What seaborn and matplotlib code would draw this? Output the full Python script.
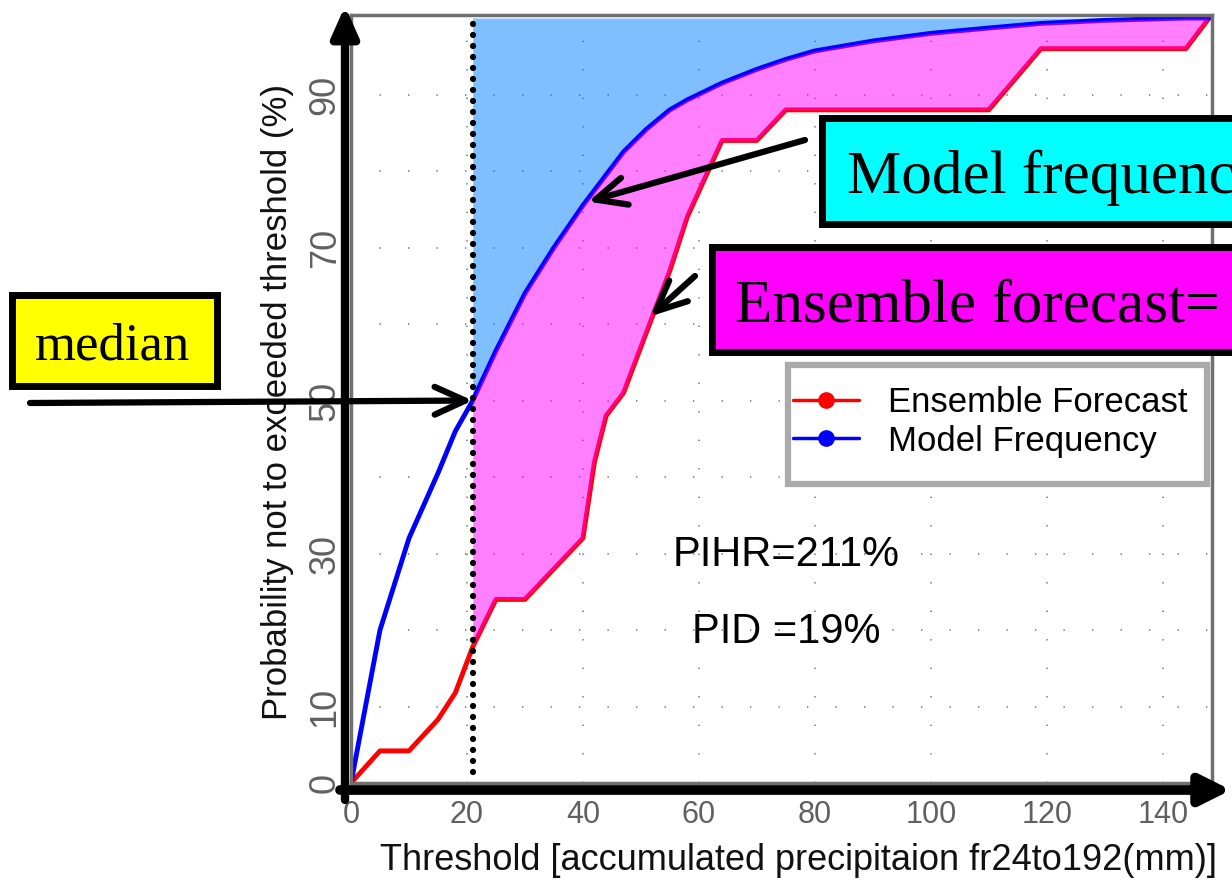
import numpy as np
import matplotlib
matplotlib.use("Agg")
import matplotlib.pyplot as plt
import seaborn as sns
from matplotlib.patches import Rectangle, FancyArrowPatch
from matplotlib.lines import Line2D

sns.set_style("white")
plt.rcParams['font.family'] = ['Liberation Sans', 'DejaVu Sans']
plt.rcParams['text.color'] = 'black'
plt.rcParams['axes.labelcolor'] = 'black'

# data
threshold = [0, 5, 10, 15, 18, 21, 25, 30, 35, 40, 42, 44, 47, 51, 55, 58, 64,
             70, 75, 80, 90, 100, 110, 119, 130, 144, 148]
model_freq = [0, 20, 32, 40.5, 46, 50, 56.5, 64, 70, 75.5, 77.5, 79.5, 82.5, 85.5,
              88, 89.3, 91.5, 93.3, 94.6, 95.7, 97, 98, 98.7, 99.3, 99.7, 100, 100]
ens_fcst = [0, 4.2, 4.2, 8.3, 11.8, 17.8, 24, 24, 28, 32, 42, 48, 51, 59, 67, 74, 84,
            84, 88, 88, 88, 88, 88, 96, 96, 96, 100]
MEDIAN = 21

xticks = [0, 20, 40, 60, 80, 100, 120, 140]
yticks = [0, 10, 20, 30, 40, 50, 60, 70, 80, 90]
ytick_labels = ['0', '10', '', '30', '', '50', '', '70', '', '90']

W, H = 1232, 885


def fx(x):
    return x / W


def fy(y):
    return 1 - y / H


fig = plt.figure(figsize=(W / 100, H / 100), dpi=100)
ax = fig.add_axes([fx(351), fy(783), (1212 - 351) / W, (783 - 15) / H])

x = np.array(threshold)
mf = np.array(model_freq)
ef = np.array(ens_fcst)
above = x >= MEDIAN

# blue area above model curve, right of median
ax.fill_between(x, mf, 100, where=above, color='#0080ff', alpha=0.5, lw=0, zorder=1)

sns.lineplot(x=threshold, y=ens_fcst, color='red', lw=3.5, ax=ax, zorder=2)
sns.lineplot(x=threshold, y=model_freq, color='blue', lw=3.5, ax=ax, zorder=2)

# magenta band between curves (drawn over the lines)
ax.fill_between(x, ef, mf, where=above, color='magenta', alpha=0.5, lw=0, zorder=3)

# median dotted line
ax.vlines(MEDIAN, 1.5, 100, colors='black', linestyles=(0, (0.01, 1.75)), lw=4.5,
          capstyle='round', zorder=4)

ax.set_xlim(0, 148.5)
ax.set_ylim(0, 100.4)
ax.set_xticks(xticks)
ax.set_yticks(yticks)
ax.set_yticklabels(ytick_labels)
plt.setp(ax.get_yticklabels(), rotation=90, va='center')
ax.tick_params(length=0, labelcolor='#606060')
ax.tick_params(axis='x', labelsize=22, pad=12)
ax.tick_params(axis='y', labelsize=26, pad=6)
ax.grid(True, color='#777777', linestyle=(0, (0.8, 16.3)), lw=1.2)
for s in ax.spines.values():
    s.set_color('#707070')
    s.set_linewidth(2.5)

ax.set_xlabel('Threshold [accumulated precipitaion fr24to192(mm)]', fontsize=26,
              color='#111111')
ax.xaxis.set_label_coords((798 - 351) / 861, -(843 - 783) / 768)
ax.set_ylabel('Probability not to exceeded threshold (%)', fontsize=25,
              color='#111111')
ax.yaxis.set_label_coords(-(351 - 294) / 861, (783 - 402) / 768)

# stats text
fig.text(fx(786), fy(555), 'PIHR=211%', ha='center', va='center', fontsize=30)
fig.text(fx(786), fy(632), 'PID =19%', ha='center', va='center', fontsize=30)

# legend with separate gray frame
fig.add_artist(Rectangle((fx(788), fy(484)), (1207 - 788) / W, (484 - 365) / H,
                         transform=fig.transFigure, facecolor='white',
                         edgecolor='#aaaaaa', lw=4.5, zorder=3))
handles = [Line2D([], [], color='red', lw=2.5, marker='o', markersize=11),
           Line2D([], [], color='blue', lw=2.5, marker='o', markersize=11)]
fig.legend(handles, ['Ensemble Forecast', 'Model Frequency'], loc='center left',
           bbox_to_anchor=(fx(793), fy(422)), frameon=False, fontsize=25,
           borderpad=0, borderaxespad=0, handlelength=1.9, handletextpad=0.85,
           labelspacing=0.15)

# black axis arrows
fig.add_artist(FancyArrowPatch((fx(345), fy(800)), (fx(345), fy(6)),
                               transform=fig.transFigure, color='black', lw=6,
                               arrowstyle='-|>,head_length=0.9,head_width=0.4',
                               mutation_scale=20, shrinkA=0, shrinkB=0))
fig.add_artist(FancyArrowPatch((fx(340), fy(790)), (fx(1231), fy(790)),
                               transform=fig.transFigure, color='black', lw=7,
                               arrowstyle='-|>,head_length=0.9,head_width=0.45',
                               mutation_scale=20, shrinkA=0, shrinkB=0))

# callout boxes
boxes = [((11.5, 295.5), (216.5, 386.5), '#ffff00'),
         ((821.5, 118.5), (1300, 223.5), '#00ffff'),
         ((711.5, 246.5), (1300, 351.5), '#ff00ff')]
for (x0, y0), (x1, y1), fc in boxes:
    fig.add_artist(Rectangle((fx(x0), fy(y1)), (x1 - x0) / W, (y1 - y0) / H,
                             transform=fig.transFigure, facecolor=fc,
                             edgecolor='black', lw=5, zorder=3))

serif = ['Liberation Serif', 'DejaVu Serif']
fig.text(fx(113), fy(360), 'median', ha='center', va='baseline', fontsize=38,
         family=serif, color='black', zorder=4)
fig.text(fx(847), fy(193), 'Model frequency', ha='left', va='baseline', fontsize=44,
         family=serif, color='black', zorder=4)
fig.text(fx(735), fy(322), 'Ensemble forecast=', ha='left', va='baseline',
         fontsize=44, family=serif, color='black', zorder=4)

# pointer arrows
arrow_kw = dict(arrowstyle='->,head_length=1.1,head_width=0.5', lw=4.5,
                color='black', shrinkA=0, shrinkB=0, mutation_scale=20)
ax.annotate('', xy=(MEDIAN, 50), xycoords='data', xytext=(fx(30), fy(403)),
            textcoords='figure fraction', arrowprops=arrow_kw)
ax.annotate('', xy=(40.9, 76), xycoords='data', xytext=(fx(805), fy(140)),
            textcoords='figure fraction', arrowprops=arrow_kw)
ax.annotate('', xy=(51.6, 61), xycoords='data', xytext=(fx(695), fy(276)),
            textcoords='figure fraction', arrowprops=arrow_kw)

fig.savefig('out.png', dpi=100)
